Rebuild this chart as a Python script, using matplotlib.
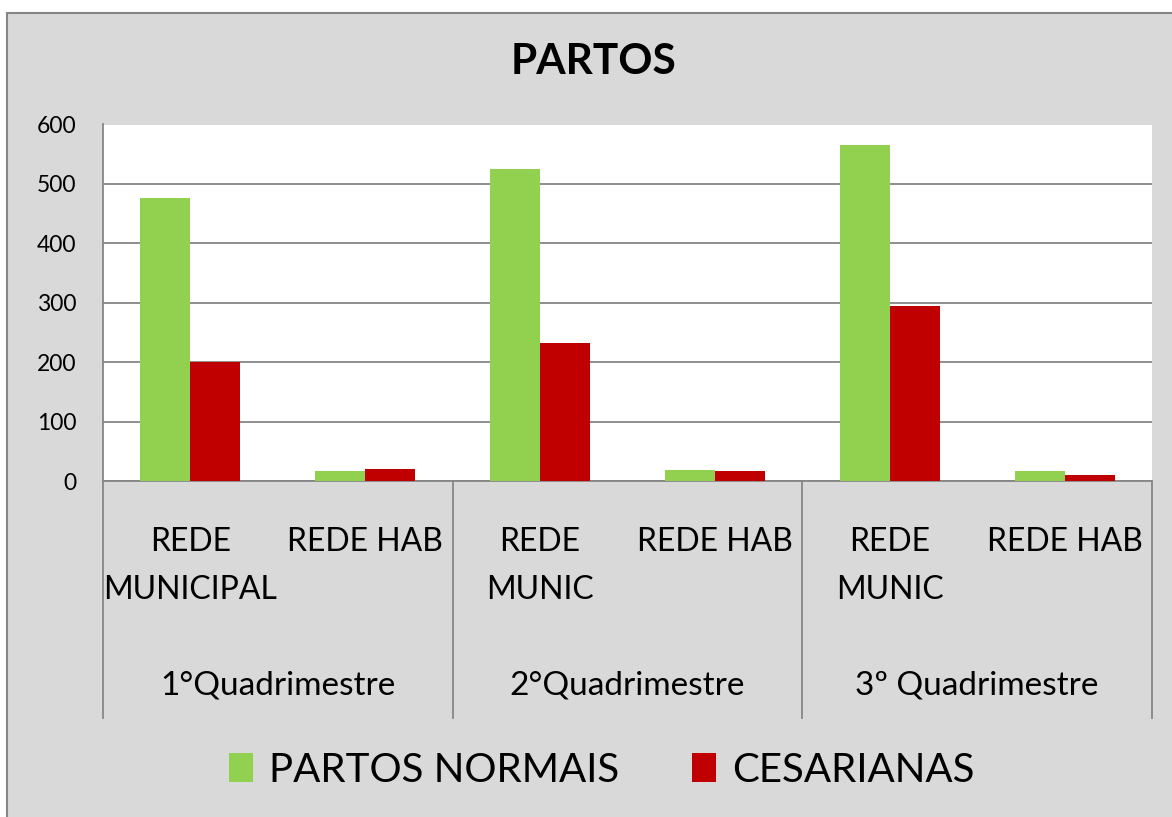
import numpy as np
import matplotlib.pyplot as plt
from matplotlib.patches import Rectangle

# chart data
subcats = ['REDE\nMUNICIPAL', 'REDE HAB', 'REDE\nMUNIC', 'REDE HAB', 'REDE\nMUNIC', 'REDE HAB']
groups = ['1°Quadrimestre', '2°Quadrimestre', '3º Quadrimestre']
partos_normais = [476, 17, 525, 18, 565, 16]
cesarianas = [200, 20, 232, 17, 295, 10]
yticks = [0, 100, 200, 300, 400, 500, 600]

GREEN = '#92D050'
RED = '#C00000'
BG = '#D9D9D9'
LINE = '#868686'

plt.rcParams['font.family'] = ['Lato', 'DejaVu Sans']

W, H = 1172, 817
fig = plt.figure(figsize=(W / 100, H / 100), dpi=100)
fig.patch.set_facecolor('white')

# chart area background with border
fig.patches.append(Rectangle((7 / W, -0.1), 1.2, (H - 13) / H + 0.1,
                             transform=fig.transFigure, facecolor=BG,
                             edgecolor=LINE, linewidth=1.5, zorder=-10))

ax = fig.add_axes([103 / W, (H - 481) / H, 1049 / W, 356.5 / H])
ax.set_facecolor('white')

x = np.arange(len(subcats))
bw = 50 / 175
ax.bar(x - bw / 2, partos_normais, bw, color=GREEN, label='PARTOS NORMAIS', zorder=3)
ax.bar(x + bw / 2, cesarianas, bw, color=RED, label='CESARIANAS', zorder=3)

ax.set_xlim(-0.5, len(subcats) - 0.5)
ax.set_ylim(0, 600)
ax.set_yticks(yticks)
ax.tick_params(axis='y', length=0, pad=19, labelsize=16.5)
ax.set_xticks([])
ax.yaxis.grid(True, color=LINE, linewidth=1.3, zorder=1)
ax.set_axisbelow(True)
for side in ['top', 'right']:
    ax.spines[side].set_visible(False)
ax.spines['left'].set_color(LINE)
ax.spines['left'].set_linewidth(1.3)
ax.spines['bottom'].set_color(LINE)
ax.spines['bottom'].set_linewidth(1.3)

# multi-level category axis
tr = ax.get_xaxis_transform()
for b in [-0.5, 1.5, 3.5, 5.5]:
    ax.plot([b, b], [0, -0.665], transform=tr, color=LINE, lw=1.3, clip_on=False)
for i, lab in enumerate(subcats):
    ax.text(i, -0.13, lab, transform=tr, ha='center', va='top', fontsize=23,
            multialignment='center', linespacing=1.72)
for g, lab in enumerate(groups):
    ax.text(2 * g + 0.5, -0.598, lab, transform=tr, ha='center', va='baseline', fontsize=24)

fig.text(594 / W, 1 - 62 / H, 'PARTOS', ha='center', va='center',
         fontsize=30.5, fontweight='bold')

fig.legend(loc='center', bbox_to_anchor=(602 / W, 1 - 770 / H), ncol=2,
           frameon=False, fontsize=29, handlelength=0.6, handleheight=0.7,
           handletextpad=0.4, columnspacing=1.8)

fig.savefig('out.png', dpi=100)
